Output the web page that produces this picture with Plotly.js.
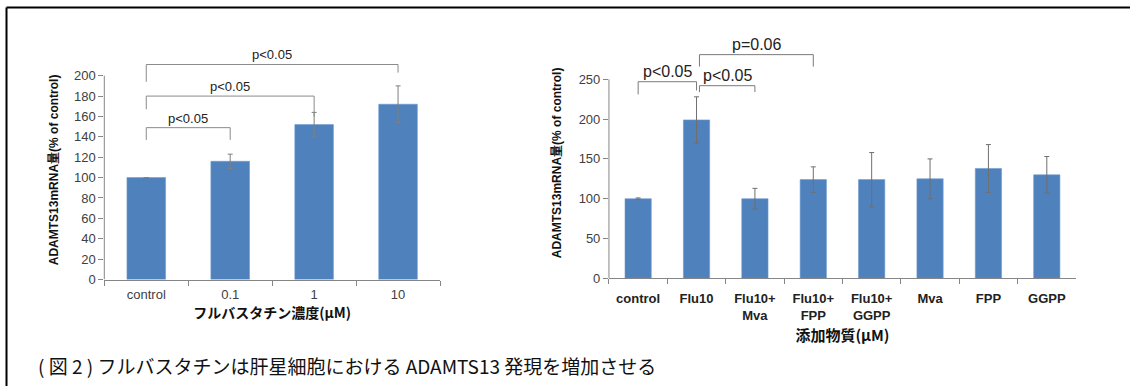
<!DOCTYPE html>
<html>
<head>
<meta charset="utf-8">
<script src="https://cdn.plot.ly/plotly-3.0.1.min.js"></script>
<style>html,body{margin:0;padding:0;background:#fff;}#chart{width:1130px;height:386px;}</style>
</head>
<body>
<div id="chart"></div>
<script>
// ---- Left chart data ----
const leftCats = ['control', '0.1', '1', '10'];
const leftVals = [100, 116, 152, 172];
const leftErr = [0, 7, 12, 18];
// brackets: [fromIndex, toIndex, topValue, leftEndValue, rightEndValue, label]
const leftBrackets = [
  [0, 1, 149, 137, 137, 'p<0.05'],
  [0, 2, 180, 167, 160, 'p<0.05'],
  [0, 3, 211, 194, 203, 'p<0.05']
];
const leftYTicks = [0, 20, 40, 60, 80, 100, 120, 140, 160, 180, 200];

// ---- Right chart data ----
const rightCats = ['control', 'Flu10', 'Flu10+<br>Mva', 'Flu10+<br>FPP', 'Flu10+<br>GGPP', 'Mva', 'FPP', 'GGPP'];
const rightVals = [100, 199, 100, 124, 124, 125, 138, 130];
const rightErr = [1, 29, 13, 16, 34, 25, 30, 23];
const rightBrackets = [
  [0, 1, 247, 231, 236, 'p<0.05'],
  [1.05, 2, 242, 234, 234, 'p<0.05'],
  [1.05, 3, 281, 266, 266, 'p=0.06']
];
const rightYTicks = [0, 50, 100, 150, 200, 250];

const yTitle = 'ADAMTS13mRNA量(% of control)';
const leftXTitle = 'フルバスタチン濃度(μM)';
const rightXTitle = '添加物質(μM)';
const caption = '( 図 2 ) フルバスタチンは肝星細胞における ADAMTS13 発現を増加させる';

const FONT = 'Liberation Sans, Arial, Noto Sans CJK JP, sans-serif';
const CJK = 'Noto Sans CJK JP, sans-serif';
const barColor = '#4f81bd';
const axisColor = '#868686';
const bracketColor = '#8a8a8a';

const traces = [
  {
    type: 'bar', x: leftCats, y: leftVals, xaxis: 'x', yaxis: 'y',
    width: 0.46, marker: {color: barColor, line: {color: '#6b9bd2', width: 0.6}},
    error_y: {type: 'data', array: leftErr, visible: true, color: '#7f7f7f', thickness: 1, width: 2.5},
    hoverinfo: 'skip', showlegend: false
  },
  {
    type: 'bar', x: rightCats, y: rightVals, xaxis: 'x2', yaxis: 'y2',
    width: 0.45, marker: {color: barColor, line: {color: '#6b9bd2', width: 0.6}},
    error_y: {type: 'data', array: rightErr, visible: true, color: '#6f6f6f', thickness: 1, width: 2.5},
    hoverinfo: 'skip', showlegend: false
  }
];

const shapes = [];
const annotations = [];

function addBrackets(list, xref, yref, fontSize, color) {
  list.forEach(b => {
    const [a, c, top, l, r, label] = b;
    shapes.push({type: 'path', xref: xref, yref: yref,
      path: `M ${a},${l} L ${a},${top} L ${c},${top} L ${c},${r}`,
      line: {color: color, width: 1}});
    annotations.push({xref: xref, yref: yref, x: (a + c) / 2, y: top, yanchor: 'bottom',
      text: label, showarrow: false, font: {family: FONT, size: fontSize, color: '#222'}, yshift: 0});
  });
}
addBrackets(leftBrackets, 'x', 'y', 13, bracketColor);
addBrackets(rightBrackets, 'x2', 'y2', 16, '#7a7a7a');

// y axis lines (only up to top tick)
shapes.push({type: 'line', xref: 'paper', yref: 'y', x0: 0.0923, x1: 0.0923, y0: 0, y1: leftYTicks[leftYTicks.length - 1], line: {color: axisColor, width: 1}});
shapes.push({type: 'line', xref: 'paper', yref: 'y2', x0: 0.5389, x1: 0.5389, y0: 0, y1: rightYTicks[rightYTicks.length - 1], line: {color: axisColor, width: 1}});

// frame lines
shapes.push({type: 'line', xref: 'paper', yref: 'paper', x0: 6.5/1130, x1: 1, y0: 1 - 7.5/386, y1: 1 - 7.5/386, line: {color: '#000', width: 2}});
shapes.push({type: 'line', xref: 'paper', yref: 'paper', x0: 6.5/1130, x1: 6.5/1130, y0: 0, y1: 1 - 7.5/386, line: {color: '#000', width: 2}});

annotations.push({xref: 'paper', yref: 'paper', x: 36/1130, y: 1 - 365/386, xanchor: 'left', yanchor: 'middle',
  text: caption, showarrow: false, font: {family: CJK, size: 19, color: '#111'}});

const tickFont = {family: FONT, size: 13, color: '#404040'};

const layout = {
  width: 1130, height: 386,
  margin: {l: 0, r: 0, t: 0, b: 0},
  paper_bgcolor: '#fff', plot_bgcolor: 'rgba(0,0,0,0)',
  showlegend: false,
  xaxis: {
    domain: [0.0923, 0.3894], anchor: 'y', type: 'category',
    showline: true, linecolor: axisColor, linewidth: 1,
    ticks: 'outside', tickson: 'boundaries', ticklen: 5, tickcolor: axisColor,
    tickfont: tickFont, showgrid: false, zeroline: false, ticklabelstandoff: 3,
    title: {text: leftXTitle, font: {family: CJK, size: 14, weight: 'bold', color: '#111'}, standoff: 5}
  },
  yaxis: {
    domain: [0.2759, 0.8435], anchor: 'x', range: [0, 215],
    tickvals: leftYTicks, ticks: 'outside', ticklen: 5, tickcolor: axisColor,
    showline: false, showgrid: false, zeroline: false, tickfont: tickFont,
    title: {text: yTitle, font: {family: FONT, size: 12, weight: 'bold', color: '#111'}, standoff: 12}
  },
  xaxis2: {
    domain: [0.5389, 0.9522], anchor: 'y2', type: 'category',
    showline: true, linecolor: axisColor, linewidth: 1,
    ticks: 'outside', tickson: 'boundaries', ticklen: 5, tickcolor: axisColor,
    tickfont: {family: FONT, size: 13, color: '#222', weight: 'bold'}, showgrid: false, zeroline: false,
    ticklabelstandoff: 8,
    title: {text: rightXTitle, font: {family: CJK, size: 15, weight: 'bold', color: '#111'}, standoff: 8}
  },
  yaxis2: {
    domain: [0.279, 0.877], anchor: 'x2', range: [0, 290],
    tickvals: rightYTicks, ticks: 'outside', ticklen: 5, tickcolor: axisColor,
    showline: false, showgrid: false, zeroline: false, tickfont: {family: FONT, size: 13, color: '#404040'},
    title: {text: yTitle, font: {family: FONT, size: 12, weight: 'bold', color: '#111'}, standoff: 14}
  },
  shapes: shapes,
  annotations: annotations
};

Plotly.newPlot('chart', traces, layout, {displayModeBar: false, staticPlot: true});
</script>
</body>
</html>
